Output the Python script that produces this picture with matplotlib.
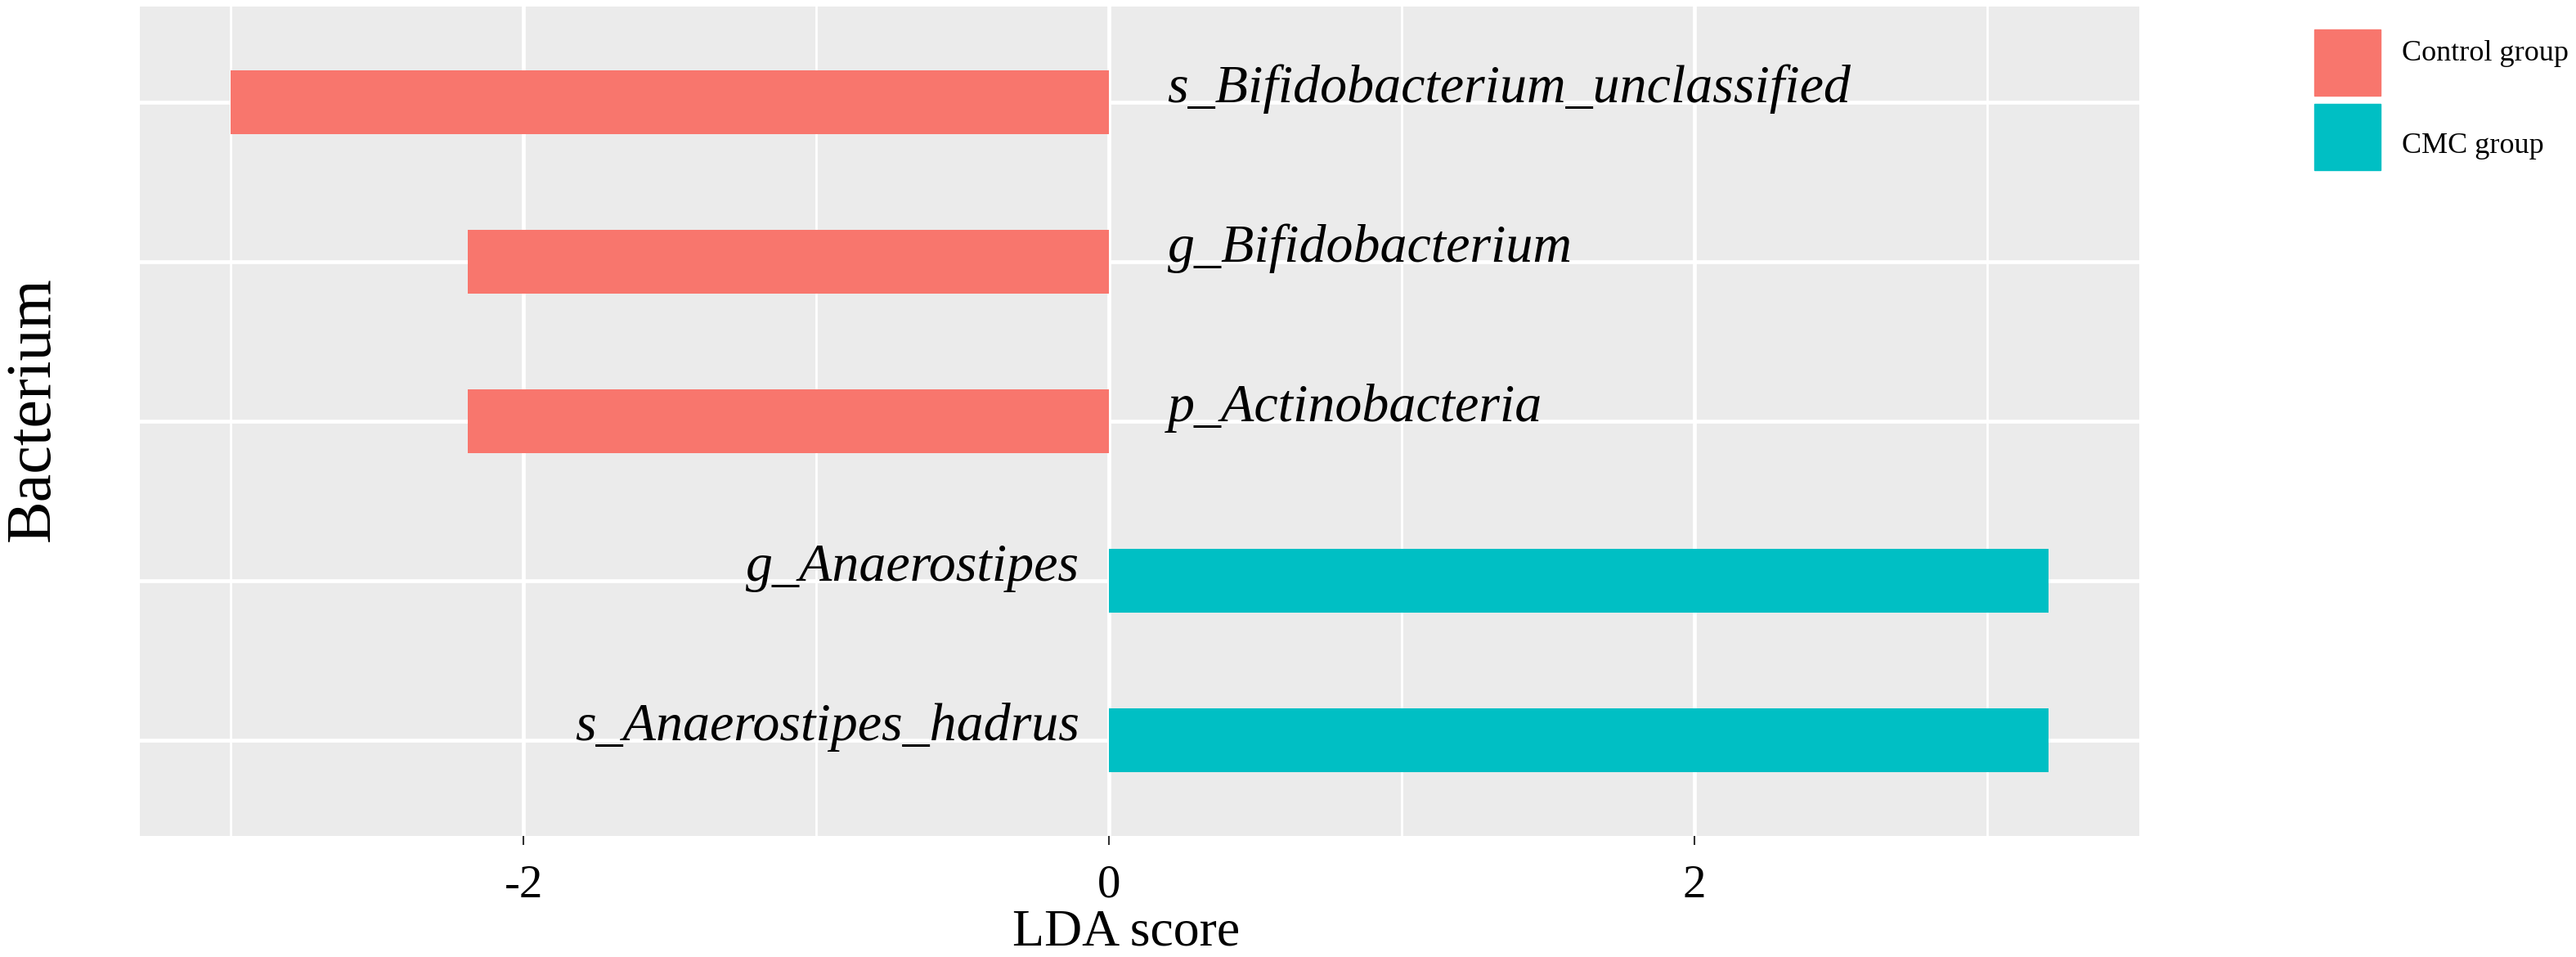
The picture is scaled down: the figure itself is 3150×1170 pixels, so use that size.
import matplotlib
matplotlib.use("Agg")
import matplotlib.pyplot as plt
from matplotlib.patches import Rectangle

# data, top to bottom as in the figure
taxa = ["s_Bifidobacterium_unclassified", "g_Bifidobacterium", "p_Actinobacteria",
        "g_Anaerostipes", "s_Anaerostipes_hadrus"]
lda = [-3.0, -2.19, -2.19, 3.21, 3.21]
groups = ["Control group", "Control group", "Control group", "CMC group", "CMC group"]
group_names = ["Control group", "CMC group"]
group_colors = {"Control group": "#F8766D", "CMC group": "#00BFC4"}
xticks = [-2, 0, 2]
xminor = [-3, -1, 1, 3]

plt.rcParams["axes.unicode_minus"] = False

W, H = 3150, 1170
fig = plt.figure(figsize=(W / 100, H / 100), dpi=100)
ax = fig.add_axes([171 / W, 1 - 1022 / H, (2616 - 171) / W, (1022 - 8) / H])

serif = "Liberation Serif"

# y positions: first taxon at the top
ypos = list(range(len(taxa), 0, -1))
cols = [group_colors[g] for g in groups]
ax.barh(ypos, lda, height=0.4, color=cols, zorder=3)

# labels sit on the other side of zero
for y, v, name in zip(ypos, lda, taxa):
    if v < 0:
        ax.text(0.2, y, name, ha="left", va="baseline", fontsize=47.5,
                family=serif, style="italic", zorder=4)
    else:
        ax.text(-0.1, y, name, ha="right", va="baseline", fontsize=47.5,
                family=serif, style="italic", zorder=4)

# ggplot-like scale expansion
lo, hi = min(lda + [0]), max(lda + [0])
pad = 0.05 * (hi - lo)
ax.set_xlim(lo - pad, hi + pad)
ax.set_ylim(0.4, len(taxa) + 0.6)

ax.set_facecolor("#EBEBEB")
for s in ax.spines.values():
    s.set_visible(False)

ax.set_xticks(xticks)
ax.set_xticklabels([str(t) for t in xticks])
ax.set_xticks(xminor, minor=True)
ax.set_yticks(ypos)
ax.set_yticklabels([])
ax.grid(True, which="major", color="white", lw=3.4, zorder=0)
ax.grid(True, which="minor", axis="x", color="white", lw=2.0, zorder=0)
ax.tick_params(axis="x", which="major", length=8, width=1.5, color="#333333",
               pad=17, labelsize=41, labelcolor="black")
ax.tick_params(axis="x", which="minor", length=0)
ax.tick_params(axis="y", length=0)
for lab in ax.get_xticklabels():
    lab.set_family(serif)

ax.set_xlabel("LDA score", fontsize=46, family=serif, va="baseline")
ax.xaxis.set_label_coords((1377 - 171) / 2445, (1022 - 1155) / 1014)

fig.text(60 / W, 1 - 500 / H, "Bacterium", rotation=90, rotation_mode="anchor",
         ha="center", va="baseline", fontsize=56, family=serif)

# legend drawn by hand to match the key layout
key_tops = [36, 127]
text_base = [74, 187]
for name, kt, tb in zip(group_names, key_tops, text_base):
    fig.add_artist(Rectangle((2830 / W, 1 - (kt + 81) / H), 81 / W, 81 / H,
                             transform=fig.transFigure, color=group_colors[name]))
    fig.text(2937 / W, 1 - tb / H, name, ha="left", va="baseline",
             fontsize=26, family=serif)

fig.savefig("out.png", dpi=100, facecolor="white")
